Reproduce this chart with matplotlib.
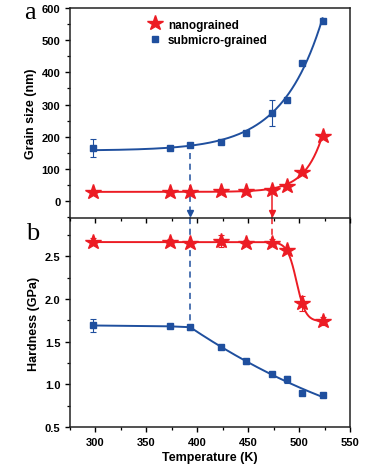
import numpy as np
import matplotlib
matplotlib.use("Agg")
import matplotlib.pyplot as plt
from matplotlib.ticker import MultipleLocator
from matplotlib.lines import Line2D

# data
temps = [298, 373, 393, 423, 448, 473, 488, 503, 523]
grain_nano = [30, 30, 30, 31, 33, 34, 47, 92, 204]
grain_nano_err = [0, 0, 0, 0, 0, 0, 0, 0, 0]
grain_sub = [165, 166, 175, 183, 213, 273, 315, 428, 560]
grain_sub_err = [28, 0, 0, 0, 0, 40, 0, 0, 0]
hard_nano = [2.67, 2.67, 2.66, 2.68, 2.66, 2.66, 2.57, 1.95, 1.74]
hard_nano_err = [0.04, 0.03, 0.02, 0.07, 0.03, 0.04, 0.02, 0.09, 0.05]
hard_sub = [1.69, 1.68, 1.67, 1.44, 1.27, 1.12, 1.06, 0.90, 0.87]
hard_sub_err = [0.08, 0.02, 0.03, 0.02, 0.03, 0.02, 0.04, 0.02, 0.02]

RED = "#ec1c24"
BLUE = "#1f4f9e"

plt.rcParams["font.family"] = ["Liberation Sans", "DejaVu Sans"]
plt.rcParams["font.weight"] = "bold"
plt.rcParams["font.size"] = 8


def fit_exp(x, y, taus):
    """y = y0 + A*exp((x-x[0])/tau), best tau from a grid"""
    x = np.asarray(x, float)
    y = np.asarray(y, float)
    best = None
    for t in taus:
        M = np.column_stack([np.ones_like(x), np.exp((x - x[0]) / t)])
        coef, *_ = np.linalg.lstsq(M, y, rcond=None)
        err = np.sum((M @ coef - y) ** 2)
        if best is None or err < best[0]:
            best = (err, t, coef)
    _, t, coef = best
    return lambda xx: coef[0] + coef[1] * np.exp((xx - x[0]) / t)


def fit_boltzmann(x, y):
    """y = A2 + (A1-A2)/(1+exp((x-x0)/dx)) via grid search"""
    x = np.asarray(x, float)
    y = np.asarray(y, float)
    best = None
    for x0 in np.arange(480, 510, 0.5):
        for dx in np.arange(1.0, 15, 0.25):
            s = 1.0 / (1.0 + np.exp((x - x0) / dx))
            M = np.column_stack([np.ones_like(x), s])
            coef, *_ = np.linalg.lstsq(M, y, rcond=None)
            err = np.sum((M @ coef - y) ** 2)
            if best is None or err < best[0]:
                best = (err, x0, dx, coef)
    _, x0, dx, coef = best
    return lambda xx: coef[0] + coef[1] / (1.0 + np.exp((xx - x0) / dx))


fig = plt.figure(figsize=(3.73, 4.77), dpi=100)
ax1 = fig.add_axes([0.1877, 0.5409, 0.7507, 0.4403])
ax2 = fig.add_axes([0.1877, 0.1027, 0.7507, 0.4382])
ax1.set_zorder(3)

xs = np.linspace(298, 523, 300)

# --- panel a: grain size
f_sub = fit_exp(temps, grain_sub, np.arange(10, 120, 0.5))
f_nano = fit_exp(temps, grain_nano, np.arange(5, 60, 0.25))
ax1.plot(xs, f_sub(xs), color=BLUE, lw=1.4)
ax1.plot(xs, f_nano(xs), color=RED, lw=1.4)

# arrows linking the two panels
ax1.plot([393, 393], [150, -52], color=BLUE, lw=1.1, ls=(0, (4, 3)))
ax1.plot([393], [-36], marker="v", color=BLUE, ms=5, clip_on=False)
ax1.plot([473, 473], [30, -52], color=RED, lw=1.1)
ax1.plot([473], [-38], marker="v", color=RED, ms=5, clip_on=False)

ax1.errorbar(temps, grain_sub, yerr=grain_sub_err, fmt="s", color=BLUE, ms=5,
             elinewidth=0.8, capsize=2.5, capthick=0.8, zorder=4)
ax1.errorbar(temps, grain_nano, yerr=grain_nano_err, fmt="*", color=RED, ms=11.5,
             elinewidth=0.8, capsize=2.5, capthick=0.8, zorder=5)

ax1.set_xlim(275, 550)
ax1.set_ylim(-52, 600)
ax1.yaxis.set_major_locator(MultipleLocator(100))
ax1.yaxis.set_minor_locator(MultipleLocator(50))
ax1.xaxis.set_major_locator(MultipleLocator(50))
ax1.xaxis.set_minor_locator(MultipleLocator(25))
ax1.tick_params(axis="x", labelbottom=False)
ax1.set_ylabel("Grain size (nm)", fontsize=9, fontweight="bold", labelpad=3)

handles = [Line2D([], [], ls="none", marker="*", color=RED, ms=11.5),
           Line2D([], [], ls="none", marker="s", color=BLUE, ms=5)]
ax1.legend(handles, ["nanograined", "submicro-grained"], loc="upper left",
           bbox_to_anchor=(0.24, 1.0), frameon=False, fontsize=8.5,
           handletextpad=0.5, labelspacing=0.3, handlelength=1.2)

# --- panel b: hardness
f_hn = fit_boltzmann(temps, hard_nano)
ax2.plot(xs, f_hn(xs), color=RED, lw=1.4)
t_arr = np.asarray(temps, float)
hs = np.asarray(hard_sub, float)
p = np.polyfit(t_arr[2:], hs[2:], 2)
xa = np.linspace(298, 393, 50)
xb = np.linspace(393, 523, 200)
ax2.plot(xa, np.interp(xa, t_arr[:3], hs[:3]), color=BLUE, lw=1.4)
ax2.plot(xb, np.polyval(p, xb), color=BLUE, lw=1.4)

ax2.plot([393, 393], [2.95, 1.70], color=BLUE, lw=1.1, ls=(0, (4, 3)))
ax2.plot([473, 473], [2.95, 2.68], color=RED, lw=1.1, ls=(0, (4, 3)))

ax2.errorbar(temps, hard_sub, yerr=hard_sub_err, fmt="s", color=BLUE, ms=5,
             elinewidth=0.8, capsize=2.5, capthick=0.8, zorder=4)
ax2.errorbar(temps, hard_nano, yerr=hard_nano_err, fmt="*", color=RED, ms=11.5,
             elinewidth=0.8, capsize=2.5, capthick=0.8, zorder=5)

ax2.set_xlim(275, 550)
ax2.set_ylim(0.5, 2.95)
ax2.yaxis.set_major_locator(MultipleLocator(0.5))
ax2.yaxis.set_minor_locator(MultipleLocator(0.25))
ax2.xaxis.set_major_locator(MultipleLocator(50))
ax2.xaxis.set_minor_locator(MultipleLocator(25))
ax2.set_ylabel("Hardness (GPa)", fontsize=9, fontweight="bold", labelpad=3)
ax2.set_xlabel("Temperature (K)", fontsize=9, fontweight="bold", labelpad=3)

for ax in (ax1, ax2):
    for s in ax.spines.values():
        s.set_linewidth(1.1)
        s.set_color("#222222")
    ax.tick_params(which="major", direction="out", length=3.5, width=1.0, labelsize=8)
    ax.tick_params(which="minor", direction="out", length=2, width=0.9)
ax2.spines["top"].set_visible(False)

fig.text(0.065, 0.972, "a", family=["Liberation Serif", "DejaVu Serif"],
         fontsize=19, fontweight="normal", va="center")
fig.text(0.07, 0.51, "b", family=["Liberation Serif", "DejaVu Serif"],
         fontsize=19, fontweight="normal", va="center")

fig.savefig("out.png", dpi=100)
